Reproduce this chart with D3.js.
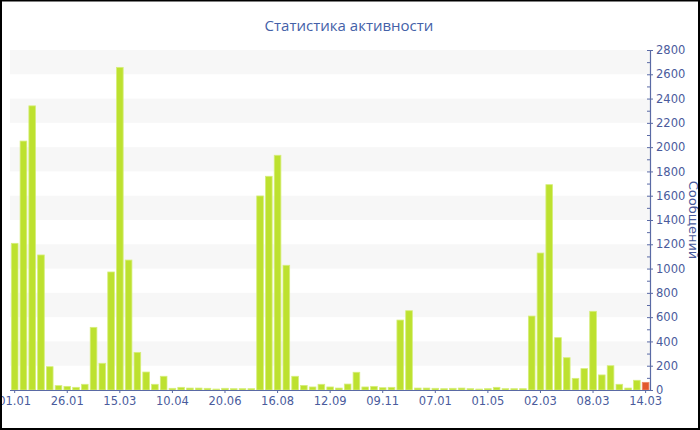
<!DOCTYPE html>
<html>
<head>
<meta charset="utf-8">
<script src="https://cdn.jsdelivr.net/npm/d3@7/dist/d3.min.js"></script>
<style>
  html, body { margin: 0; padding: 0; background: #fff; }
  svg { display: block; }
</style>
</head>
<body>
<svg id="chart" width="700" height="430"></svg>
<script>
// ---- data ----
const values = [
  1208, 2050, 2340, 1112, 192, 36, 30, 22, 47, 516,
  220, 972, 2657, 1070, 310, 148, 47, 113, 14, 22,
  16, 16, 14, 8, 14, 11, 11, 11, 1598, 1760,
  1933, 1027, 113, 38, 25, 47, 25, 16, 49, 146,
  25, 30, 19, 22, 576, 653, 16, 16, 14, 11,
  14, 16, 11, 8, 11, 22, 11, 11, 11, 609,
  1128, 1691, 431, 266, 96, 176, 648, 124, 200, 47,
  16, 80, 63
];
const categories = values.map((d, i) => i);
const tickLabels = ["01.01", "26.01", "15.03", "10.04", "20.06", "16.08", "12.09",
                    "09.11", "07.01", "01.05", "02.03", "08.03", "14.03"];
const yTicks = [0, 200, 400, 600, 800, 1000, 1200, 1400, 1600, 1800, 2000, 2200, 2400, 2600, 2800];
const titleText = "Статистика активности";
const yTitle = "Сообщений";

// ---- layout ----
const svg = d3.select("#chart");
const mLeft = 10, mRight = 650, mTop = 50, mBottom = 390;
const axisColor = "#5a6aa5";
const textColor = "#4a5b9c";

const x = d3.scaleBand().domain(categories).range([mLeft + 0.3, mRight]).paddingInner(0.24).paddingOuter(0.12);
const y = d3.scaleLinear().domain([0, 2800]).range([mBottom, mTop]);

// alternating bands
const bandPairs = d3.range(1, yTicks.length - 1, 2).map(i => [yTicks[i], yTicks[i + 1]]);
svg.append("g").selectAll("rect").data(bandPairs).join("rect")
  .attr("x", mLeft).attr("width", mRight - mLeft)
  .attr("y", d => y(d[1])).attr("height", d => y(d[0]) - y(d[1]))
  .attr("fill", "#f7f7f7");

// bars
svg.append("g").selectAll("rect").data(values).join("rect")
  .attr("x", (d, i) => x(i))
  .attr("width", x.bandwidth())
  .attr("y", d => y(d))
  .attr("height", d => y(0) - y(d))
  .attr("fill", (d, i) => i === values.length - 1 ? "#e2592c" : "#bde12f")
  .attr("stroke", (d, i) => i === values.length - 1 ? "#ee8a66" : "#d6ee7c")
  .attr("stroke-width", 0.8);

// x axis
const xAxis = d3.axisBottom(x)
  .tickValues(categories.filter(i => i % 6 === 0))
  .tickFormat(i => tickLabels[i / 6])
  .tickSize(3).tickSizeOuter(0).tickPadding(4);
const gx = svg.append("g").attr("transform", `translate(0,${mBottom})`).call(xAxis);
gx.select(".domain").attr("stroke", axisColor).attr("stroke-width", 1.2)
  .attr("d", `M${mLeft},0.5H${mRight}`);
gx.selectAll(".tick line").attr("stroke", axisColor);
gx.selectAll(".tick text").attr("fill", textColor)
  .style("font-family", "'DejaVu Sans', Verdana, sans-serif").style("font-size", "11.5px");

// y axis (right)
const yAxis = d3.axisRight(y).tickValues(yTicks).tickSize(3).tickSizeOuter(0).tickPadding(3)
  .tickFormat(d3.format("d"));
const gy = svg.append("g").attr("transform", `translate(${mRight},0)`).call(yAxis);
gy.select(".domain").attr("stroke", axisColor).attr("stroke-width", 1.2);
gy.selectAll(".tick line").attr("stroke", axisColor).attr("x1", -3);
gy.selectAll(".tick text").attr("fill", textColor)
  .style("font-family", "'DejaVu Sans', Verdana, sans-serif").style("font-size", "11.5px");

const minorAxis = d3.axisRight(y).tickValues(d3.range(100, 2800, 200)).tickSize(-3).tickSizeOuter(0).tickFormat("");
const gm = svg.append("g").attr("transform", `translate(${mRight},0)`).call(minorAxis);
gm.select(".domain").remove();
gm.selectAll(".tick line").attr("stroke", axisColor);

// y axis title
svg.append("text")
  .attr("transform", `translate(689,${(mTop + mBottom) / 2}) rotate(90)`)
  .attr("text-anchor", "middle")
  .attr("fill", textColor)
  .style("font-family", "'DejaVu Sans', Verdana, sans-serif").style("font-size", "13px")
  .text(yTitle);

// title
svg.append("text")
  .attr("x", 349).attr("y", 31)
  .attr("text-anchor", "middle")
  .attr("fill", "#4461a8")
  .style("font-family", "'Open Sans', sans-serif").style("font-size", "15px")
  .text(titleText);

// border
svg.append("rect").attr("x", 1).attr("y", 0.5).attr("width", 698).attr("height", 428.5)
  .attr("fill", "none").attr("stroke", "#000").attr("stroke-width", 2);
</script>
</body>
</html>
